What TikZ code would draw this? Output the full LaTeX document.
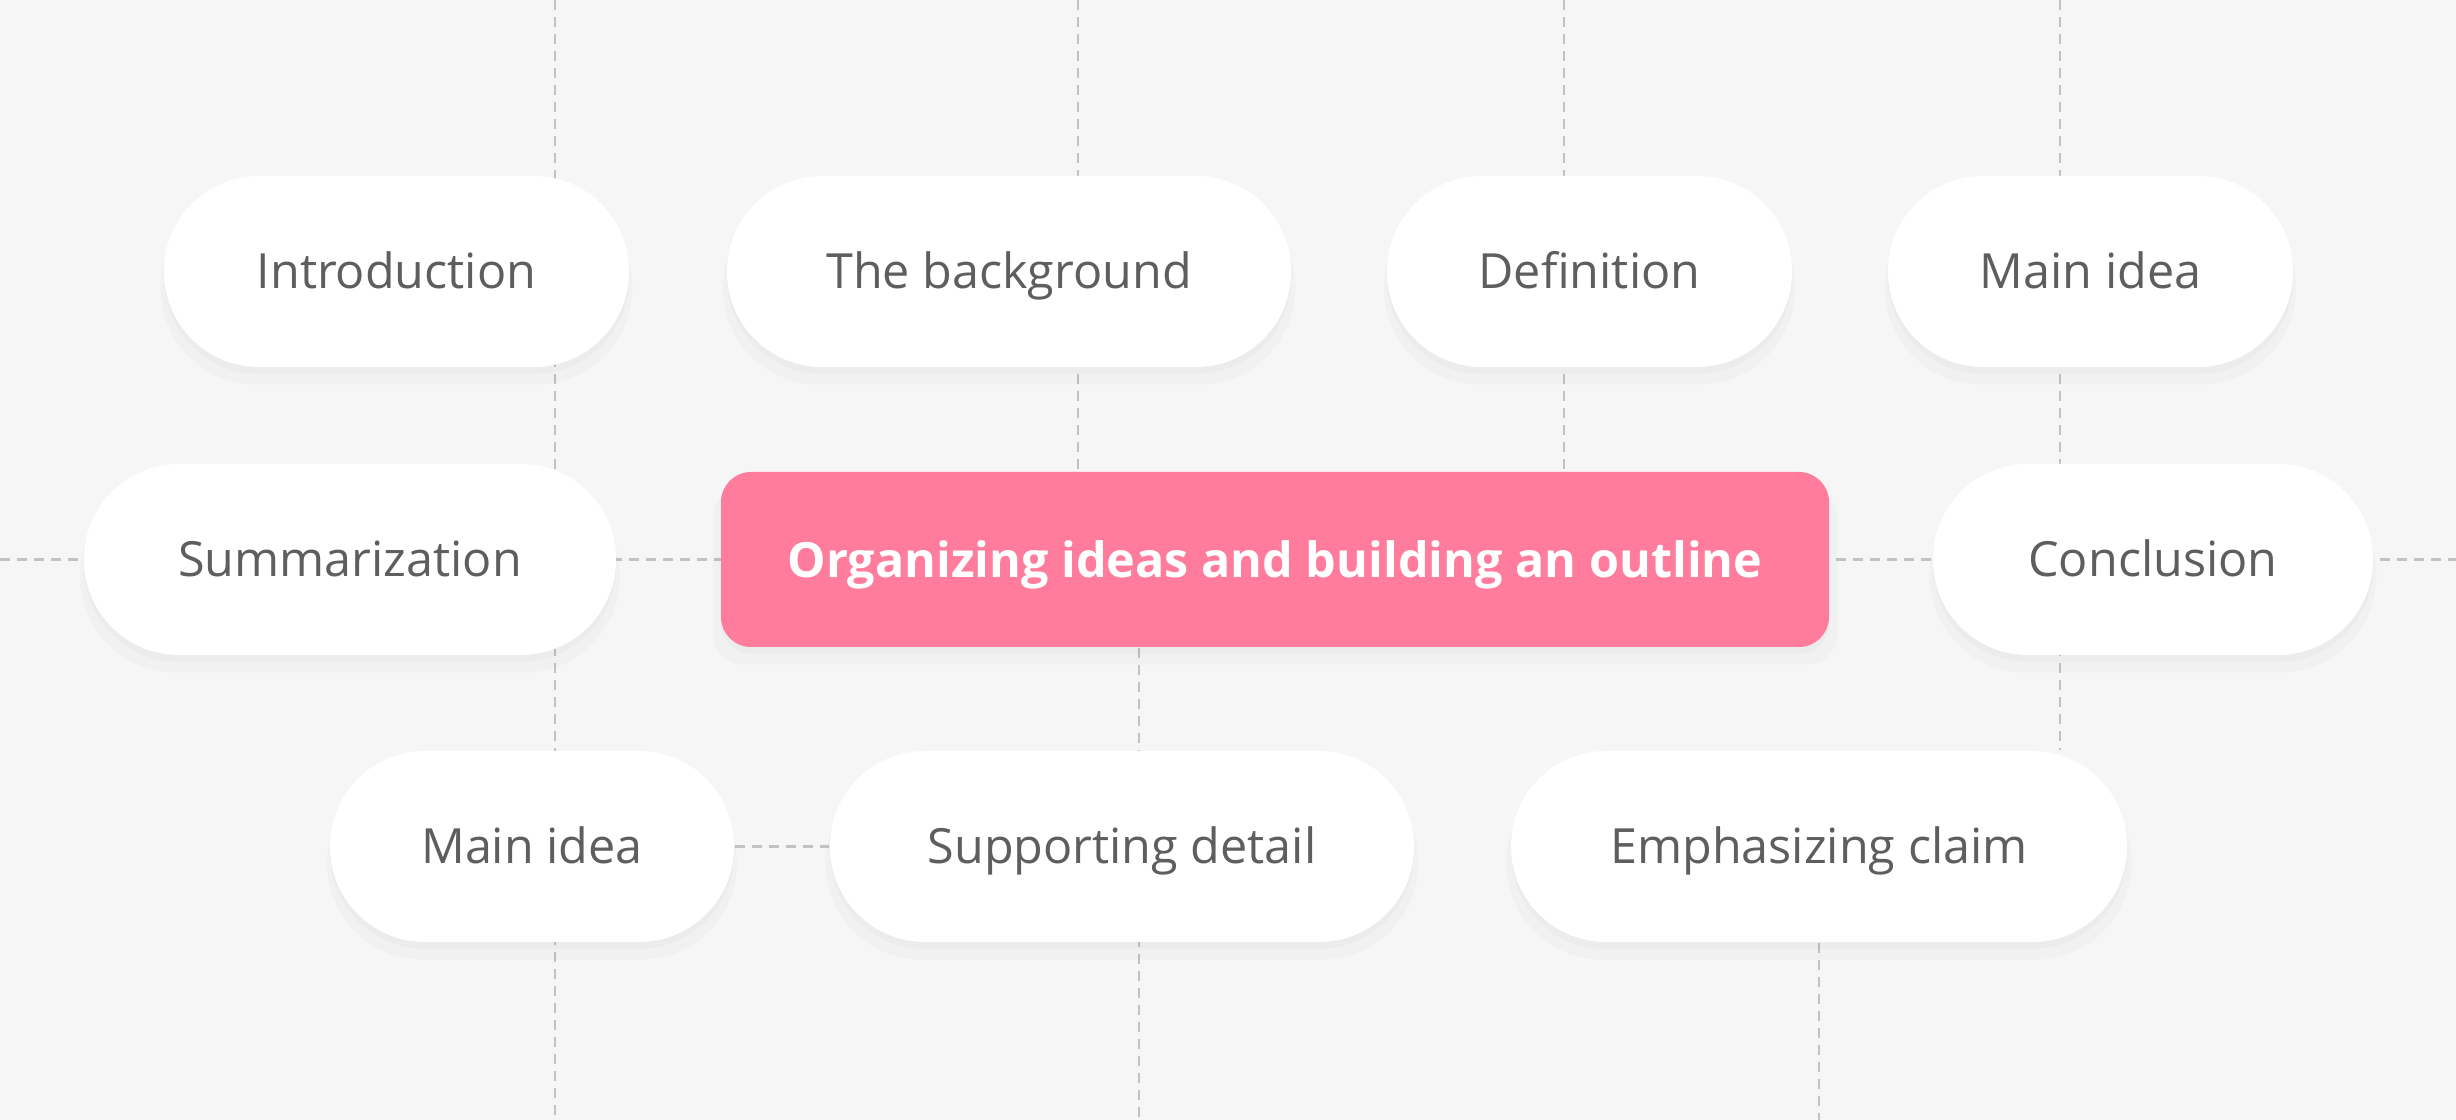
\documentclass[tikz,border=0pt]{standalone}
\usepackage{fontspec}
\setmainfont{Open Sans}
\usetikzlibrary{positioning, shadows, backgrounds}
\definecolor{olbg}{HTML}{F6F6F6}
\definecolor{olpink}{HTML}{FF7C9C}
\definecolor{oltext}{HTML}{5E5E5E}
\definecolor{olline}{HTML}{C2C2C2}

\begin{document}
\begin{tikzpicture}[
    soft/.style={general shadow={shadow xshift=0cm, shadow yshift=-0.16cm,
            shadow scale=1.015, opacity=0.018, fill=black},
        drop shadow={shadow xshift=0cm, shadow yshift=-0.07cm, opacity=0.02, fill=black}},
    pill/.style={rectangle, rounded corners=0.95cm, fill=white, inner sep=0pt,
        minimum height=1.91cm, text=oltext, font=\fontsize{13.8}{16}\selectfont,
        text height=0.35cm, text depth=0cm, soft},
    topic/.style={rectangle, rounded corners=0.3cm, fill=olpink, inner sep=0pt,
        minimum height=1.75cm, minimum width=11.08cm, text=white,
        font=\fontsize{13.8}{16}\selectfont\bfseries,
        text height=0.36cm, text depth=0cm, soft},
    guide/.style={olline, line width=0.025cm, dash pattern=on 0.1cm off 0.07cm}
]
    \useasboundingbox (0,0) rectangle (24.56,11.2);

    % Top row
    \node[pill, minimum width=4.65cm] (intro) at (3.965,8.485) {Introduction};
    \node[pill, minimum width=5.64cm] (backgr) at (10.09,8.485) {The background};
    \node[pill, minimum width=4.05cm] (defn) at (15.895,8.485) {Definition};
    \node[pill, minimum width=4.05cm] (ideatop) at (20.905,8.485) {Main idea};

    % Middle row
    \node[pill, minimum width=5.32cm] (summ) at (3.50,5.605) {Summarization};
    \node[topic] (outline) at (12.75,5.605) {Organizing ideas and building an outline};
    \node[pill, minimum width=4.40cm] (concl) at (21.53,5.605) {Conclusion};

    % Bottom row
    \node[pill, minimum width=4.04cm] (ideabot) at (5.32,2.735) {Main idea};
    \node[pill, minimum width=5.84cm] (detail) at (11.22,2.735) {Supporting detail};
    \node[pill, minimum width=6.16cm] (claim) at (18.19,2.735) {Emphasizing claim};

    % Guide lines behind the nodes
    \coordinate (gA) at (5.55,11.2);
    \coordinate (gB) at (10.78,11.2);
    \coordinate (gC) at (11.39,0);
    \coordinate (gD) at (15.64,11.2);
    \coordinate (gE) at (20.60,11.2);
    \coordinate (gF) at (18.19,0);
    \coordinate (gL) at (0,5.605);
    \coordinate (gR) at (24.56,5.605);

    \begin{scope}[on background layer]
        \fill[olbg] (0,0) rectangle (24.56,11.2);
        \draw[guide] (gA) -- (gA |- 0,0);
        \draw[guide] (gB) -- (outline.north -| gB);
        \draw[guide] (outline.south -| gC) -- (gC);
        \draw[guide] (gD) -- (outline.north -| gD);
        \draw[guide] (gE) -- (claim.north -| gE);
        \draw[guide] (claim.south) -- (gF);
        \draw[guide] (gL) -- (gR);
        \draw[guide] (ideabot.east) -- (detail.west);
    \end{scope}
\end{tikzpicture}
\end{document}
